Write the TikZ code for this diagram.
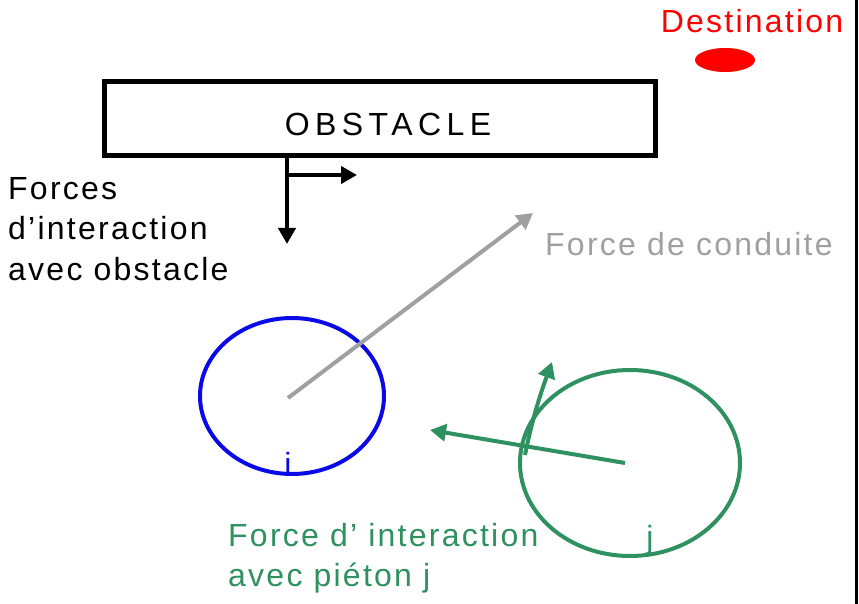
\documentclass[tikz,border=0pt]{standalone}
\usepackage{fontspec}
\setmainfont{Liberation Sans}
\usetikzlibrary{arrows.meta,shapes.geometric}
\definecolor{dgreen}{RGB}{46,145,95}
\definecolor{lgray}{RGB}{160,160,160}
\definecolor{dblue}{RGB}{10,10,230}
\tikzset{
  lbl/.style={inner sep=0pt, anchor=base west, font=\fontsize{32bp}{40bp}\selectfont\addfontfeature{LetterSpace=7}},
  arr/.style={line width=4bp, -{Triangle[length=16bp,width=17bp]}},
}
\begin{document}
\begin{tikzpicture}[x=1bp,y=-1bp]
\useasboundingbox (0,0) rectangle (859,604);
\draw[line width=3bp] (856,0) -- (856,604);
% obstacle
\node[draw, line width=5bp, minimum width=551bp, minimum height=74bp, inner sep=0pt] (obs) at (380,118.5) {};
\node[lbl, anchor=base, font=\fontsize{32bp}{40bp}\selectfont\addfontfeature{LetterSpace=17}] (obstxt) at (388,136) {OBSTACLE};
% destination
\node[lbl, text=red, anchor=base] (desttxt) at (752,33) {Destination};
\node[ellipse, fill=red, minimum width=60bp, minimum height=24bp, inner sep=0pt] (dest) at (725,60) {};
% obstacle forces
\coordinate (o1) at (287,158);
\coordinate (o2) at (287,244);
\coordinate (o3) at (287,175);
\coordinate (o4) at (357,175);
\draw[arr] (o1) -- (o2);
\draw[arr] (o3) -- (o4);
\node[lbl] (ftxt1) at (8,200) {Forces};
\node[lbl] (ftxt2) at (8,240) {d’interaction};
\node[lbl] (ftxt3) at (8,280) {avec obstacle};
% pedestrian i
\node[draw=dblue, line width=4bp, ellipse, minimum width=184bp, minimum height=156bp, inner sep=0pt] (pi) at (292,396) {};
\node[lbl, text=dblue, anchor=base] (itxt) at (288,475) {i};
\coordinate (ic) at (288,398);
\coordinate (dc) at (533,213);
\draw[arr, lgray] (ic) -- (dc);
\node[lbl, text=lgray] (ctxt) at (545,256) {Force de conduite};
% pedestrian j
\node[draw=dgreen, line width=4bp, ellipse, minimum width=220bp, minimum height=186bp, inner sep=0pt] (pj) at (630,463) {};
\node[lbl, text=dgreen, anchor=base] (jtxt) at (650,548) {j};
\coordinate (jc) at (625,463);
\coordinate (jf) at (430,430);
\draw[arr, dgreen] (jc) -- (jf);
\coordinate (jb) at (525,455);
\coordinate (jt) at (552,362);
\draw[arr, dgreen] (jb) .. controls (532,420) and (540,395) .. (jt);
\node[lbl, text=dgreen] (gtxt1) at (228,546) {Force d’ interaction};
\node[lbl, text=dgreen] (gtxt2) at (228,586) {avec piéton j};
\end{tikzpicture}
\end{document}
